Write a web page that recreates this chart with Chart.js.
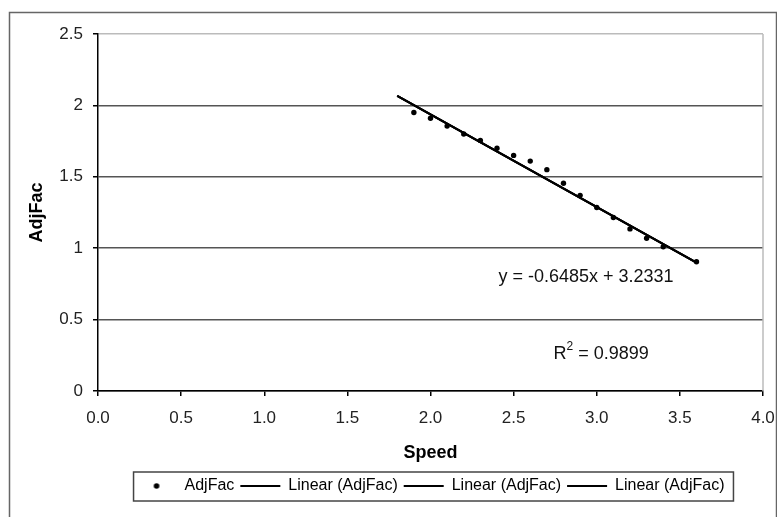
<!DOCTYPE html>
<html><head><meta charset="utf-8">
<style>html,body{margin:0;padding:0;background:#fff;} canvas{display:block;}</style>
<script src="https://cdn.jsdelivr.net/npm/chart.js@4/dist/chart.umd.min.js"></script>
</head><body>
<canvas id="c" width="777" height="517"></canvas>
<script>
const speed = [1.9, 2.0, 2.1, 2.2, 2.3, 2.4, 2.5, 2.6, 2.7, 2.8, 2.9, 3.0, 3.1, 3.2, 3.3, 3.4, 3.6];
const adjFac = [1.95, 1.91, 1.855, 1.80, 1.755, 1.70, 1.65, 1.61, 1.55, 1.455, 1.37, 1.285, 1.215, 1.135, 1.07, 1.01, 0.905];
const trendSpeed = [1.8, 3.6];
const trendAdjFac = [2.066, 0.899];
const xTickLabels = ['0.0', '0.5', '1.0', '1.5', '2.0', '2.5', '3.0', '3.5', '4.0'];
const yTickLabels = ['0', '0.5', '1', '1.5', '2', '2.5'];
const seriesName = 'AdjFac';
const trendName = 'Linear (AdjFac)';
const xTitle = 'Speed';
const yTitle = 'AdjFac';
const equationText = 'y = -0.6485x + 3.2331';
const r2Text = '0.9899';
const equationAt = [2.935, 0.797];
const r2At = [3.026, 0.259];

const FONT = '"Liberation Sans", Arial, sans-serif';

// small dot image used as the legend symbol of the scatter series
const dotImg = document.createElement('canvas');
dotImg.width = 8; dotImg.height = 8;
(function () {
  const g = dotImg.getContext('2d');
  g.fillStyle = '#000';
  g.beginPath(); g.arc(4, 4, 2.8, 0, Math.PI * 2); g.fill();
})();

const framePlugin = {
  id: 'frame',
  beforeDraw(chart) {
    const ctx = chart.ctx;
    ctx.save();
    ctx.fillStyle = '#fff';
    ctx.fillRect(0, 0, chart.width, chart.height);
    ctx.strokeStyle = '#666';
    ctx.lineWidth = 1.5;
    ctx.strokeRect(9.5, 12.5, 767, 560);
    ctx.restore();
  },
  beforeDatasetsDraw(chart) {
    const ctx = chart.ctx, a = chart.chartArea;
    ctx.save();
    ctx.strokeStyle = '#bbb';
    ctx.lineWidth = 1.5;
    ctx.beginPath();
    ctx.moveTo(a.right, a.top);
    ctx.lineTo(a.right, a.bottom);
    ctx.stroke();
    ctx.restore();
  },
  afterDraw(chart) {
    const ctx = chart.ctx;
    const xs = chart.scales.x, ys = chart.scales.y;
    ctx.save();
    ctx.fillStyle = '#111';
    ctx.font = '18px ' + FONT;
    ctx.textBaseline = 'middle';
    ctx.textAlign = 'center';
    ctx.fillText(equationText, xs.getPixelForValue(equationAt[0]), ys.getPixelForValue(equationAt[1]));
    // R² with superscript
    const main = ' = ' + r2Text;
    ctx.font = '18px ' + FONT;
    const wR = ctx.measureText('R').width;
    const wM = ctx.measureText(main).width;
    ctx.font = '12px ' + FONT;
    const w2 = ctx.measureText('2').width;
    const cx = xs.getPixelForValue(r2At[0]), cy = ys.getPixelForValue(r2At[1]);
    let x0 = cx - (wR + w2 + wM) / 2;
    ctx.textAlign = 'left';
    ctx.font = '18px ' + FONT;
    ctx.fillText('R', x0, cy);
    ctx.font = '12px ' + FONT;
    ctx.fillText('2', x0 + wR, cy - 7);
    ctx.font = '18px ' + FONT;
    ctx.fillText(main, x0 + wR + w2, cy);
    // legend border
    const hb = chart.legend.legendHitBoxes;
    if (hb && hb.length) {
      const first = hb[0], last = hb[hb.length - 1];
      ctx.strokeStyle = '#444';
      ctx.lineWidth = 1.5;
      ctx.strokeRect(first.left - 3, first.top - 6, (last.left + last.width + 9) - (first.left - 3), first.height + 13);
    }
    ctx.restore();
  }
};

const trendData = trendSpeed.map((x, i) => ({x, y: trendAdjFac[i]}));
const trendDataset = () => ({
  label: trendName,
  data: trendData,
  showLine: true,
  borderColor: '#000',
  backgroundColor: '#000',
  borderWidth: 2,
  pointRadius: 0,
  pointStyle: 'line'
});

new Chart(document.getElementById('c'), {
  type: 'scatter',
  data: {
    datasets: [
      {
        label: seriesName,
        data: speed.map((x, i) => ({x, y: adjFac[i]})),
        backgroundColor: '#000',
        borderColor: '#000',
        borderWidth: 0,
        pointRadius: 2.7,
        pointStyle: 'circle'
      },
      trendDataset(), trendDataset(), trendDataset()
    ]
  },
  options: {
    responsive: false,
    animation: false,
    devicePixelRatio: 1,
    layout: { padding: { left: 20, top: 34, right: 0, bottom: 13 } },
    plugins: {
      tooltip: { enabled: false },
      legend: {
        position: 'bottom',
        fullSize: false,
        labels: {
          usePointStyle: true,
          pointStyleWidth: 40,
          boxHeight: 4,
          padding: 6,
          color: '#000',
          font: { family: FONT, size: 16 },
          generateLabels(chart) {
            const items = Chart.defaults.plugins.legend.labels.generateLabels(chart);
            items.forEach(it => { if (it.datasetIndex === 0) it.pointStyle = dotImg; });
            return items;
          }
        }
      }
    },
    scales: {
      x: {
        type: 'linear',
        min: 0, max: 4,
        afterFit(s) { s.height = 81; s.paddingRight = 14; },
        ticks: {
          stepSize: 0.5,
          autoSkip: false,
          maxRotation: 0,
          padding: 12,
          color: '#222',
          font: { family: FONT, size: 17 },
          callback: (v, i) => xTickLabels[i]
        },
        grid: { drawOnChartArea: false, drawTicks: true, tickLength: 5, color: '#000', lineWidth: 1.5 },
        border: { display: true, color: '#000', width: 1.5 },
        title: {
          display: true, text: xTitle, color: '#000',
          font: { family: FONT, size: 18, weight: 'bold' },
          padding: { top: 4, bottom: 8 }
        }
      },
      y: {
        type: 'linear',
        min: 0, max: 2.5,
        afterFit(s) { s.width = 78; },
        ticks: {
          stepSize: 0.5,
          autoSkip: false,
          padding: 10,
          color: '#222',
          font: { family: FONT, size: 17 },
          callback: (v, i) => yTickLabels[i]
        },
        grid: {
          color: (c) => (c.tick && c.tick.value === 2.5) ? '#bbb' : '#555',
          tickColor: '#000',
          lineWidth: 1.5,
          tickLength: 5
        },
        border: { display: true, color: '#000', width: 1.5 },
        title: {
          display: true, text: yTitle, color: '#000',
          font: { family: FONT, size: 18, weight: 'bold' },
          padding: { top: 6, bottom: 4 }
        }
      }
    }
  },
  plugins: [framePlugin]
});
</script>
</body></html>
